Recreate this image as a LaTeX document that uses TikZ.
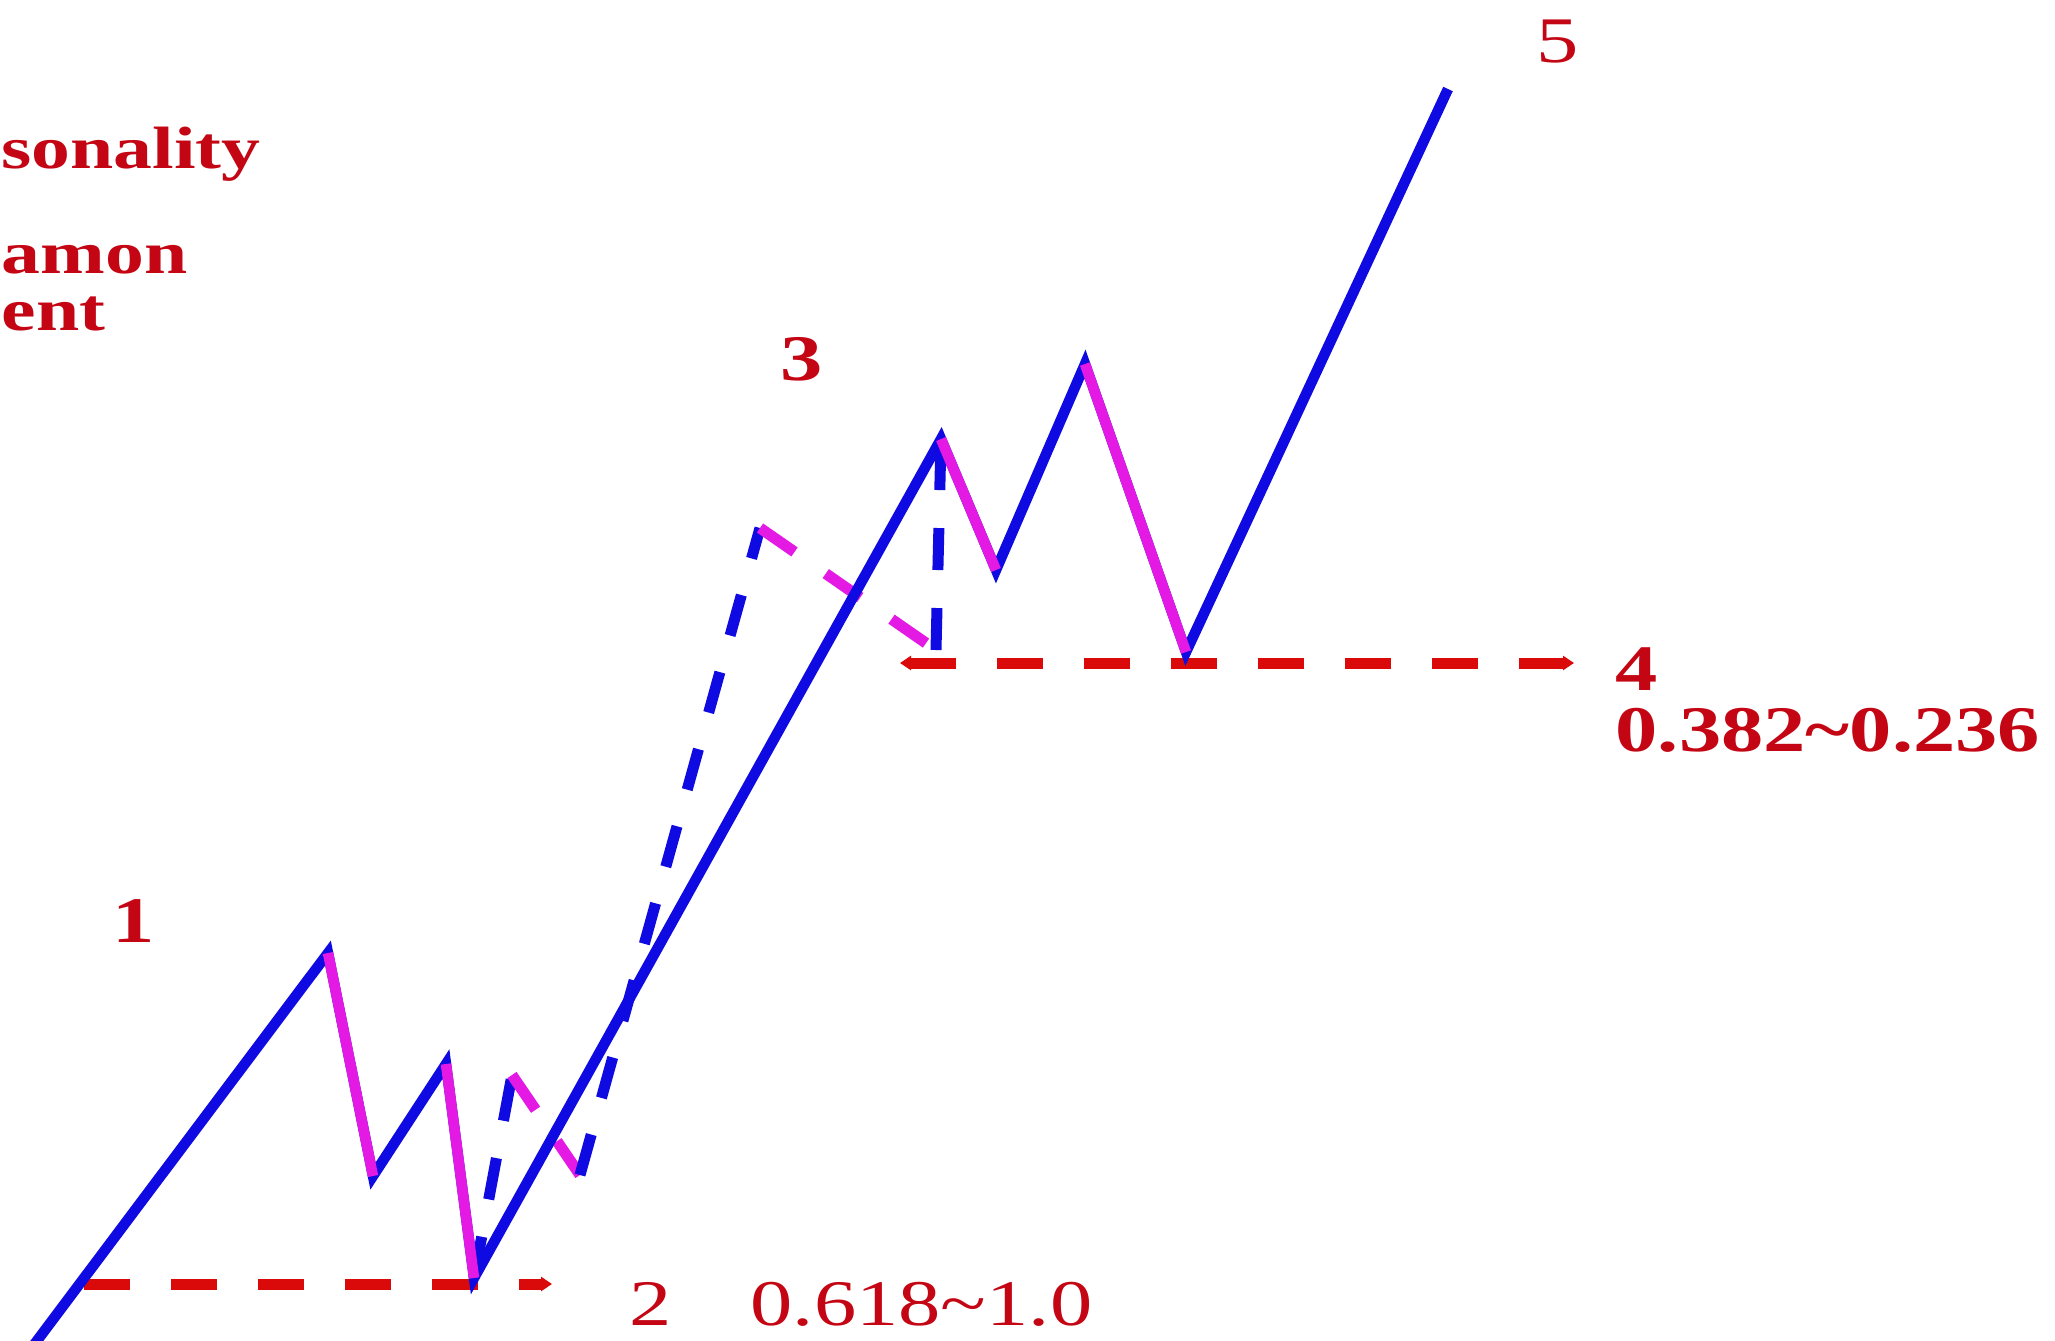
\documentclass[tikz,border=0pt]{standalone}
\usepackage{fontspec}
\setmainfont{Liberation Serif}
\newfontfamily\wavefont[FakeStretch=1.3]{Liberation Serif}
\usepackage{tikz}
\usetikzlibrary{arrows.meta}
\usepackage{xcolor}
\definecolor{waveblue}{RGB}{15,10,225}
\definecolor{wavepink}{RGB}{228,25,228}
\definecolor{levelred}{RGB}{218,10,10}
\definecolor{textred}{RGB}{196,5,20}

\tikzset{
  waveup/.style={draw=waveblue, line width=1.05mm},
  wavedown/.style={draw=wavepink, line width=1.05mm},
  subup/.style={draw=waveblue, line width=1.1mm, dash pattern=on 4.2mm off 3.8mm},
  subdown/.style={draw=wavepink, line width=1.1mm, dash pattern=on 4.2mm off 3.8mm},
  fiblevel/.style={draw=levelred, line width=1.1mm, dash pattern=on 4.6mm off 4.1mm},
  lbl/.style={text=textred, inner sep=0pt, font=\wavefont\fontsize{18.5}{22}\selectfont},
  toptxt/.style={text=textred, inner sep=0pt, anchor=base west, font=\wavefont\fontsize{17}{20}\selectfont\bfseries},
  tinytip/.tip={Triangle[length=1.1mm,width=1.4mm]}
}

\begin{document}
\begin{tikzpicture}[x=0.1mm,y=-0.1mm]
    %\draw[step=100, gray, very thin] (0,0) grid (2055,1340);
    \clip (0,0) rectangle (2055,1340);

    % turning points
    \coordinate (s)  at (30,1350);
    \coordinate (p1) at (328,953);
    \coordinate (a1) at (373,1176);
    \coordinate (b1) at (446,1064);
    \coordinate (l2) at (474,1278);
    \coordinate (p3) at (941,439);
    \coordinate (a3) at (996,570);
    \coordinate (b3) at (1085,364);
    \coordinate (l4) at (1186,652);
    \coordinate (p5) at (1448,89);
    % sub waves of 3
    \coordinate (i)   at (512,1075);
    \coordinate (ii)  at (580,1175);
    \coordinate (iii) at (760,528);
    \coordinate (iv)  at (936,650);
    % retracement levels
    \coordinate (lv2a) at (84,1284);
    \coordinate (lv2b) at (552,1284);
    \coordinate (lv4a) at (900,663);
    \coordinate (lv4b) at (1574,663);

    \begin{scope}[fiblevel]
    \draw[-tinytip] (lv2a) -- (lv2b);
    \draw[tinytip-tinytip] (lv4a) -- (lv4b);
    \end{scope}

    \begin{scope}
    \draw[subup] (l2) -- (i);
    \draw[subdown] (i) -- (ii);
    \draw[subup] (ii) -- (iii);
    \draw[subdown] (iii) -- (iv);
    \draw[subup] (iv) -- (p3);
    \end{scope}

    \begin{scope}
    \draw[waveup] (s) -- (p1) -- (a1) -- (b1) -- (l2) -- (p3) -- (a3) -- (b3) -- (l4) -- (p5);
    \draw[wavedown] (p1) -- (a1);
    \draw[wavedown] (b1) -- (l2);
    \draw[wavedown] (p3) -- (a3);
    \draw[wavedown] (b3) -- (l4);
    \end{scope}

    \node[toptxt] (t1) at (1,168) {sonality};
    \node[toptxt] (t2) at (1,273) {amon};
    \node[toptxt] (t3) at (1,330) {ent};

    \node[lbl, font=\wavefont\fontsize{18.5}{22}\selectfont\bfseries] (n1) at (134,921) {1};
    \node[lbl, anchor=base west] (n2) at (629,1325) {2};
    \node[lbl, anchor=base west] (r2) at (750,1325) {0.618\textasciitilde1.0};
    \node[lbl, font=\wavefont\fontsize{18.5}{22}\selectfont\bfseries] (n3) at (802,359) {3};
    \node[lbl, anchor=base west, font=\wavefont\fontsize{18.5}{22}\selectfont\bfseries] (n4) at (1615,690) {4};
    \node[lbl, anchor=base west, font=\wavefont\fontsize{18.5}{22}\selectfont\bfseries] (r4) at (1615,751) {0.382\textasciitilde0.236};
    \node[lbl] (n5) at (1558,42) {5};
\end{tikzpicture}
\end{document}
